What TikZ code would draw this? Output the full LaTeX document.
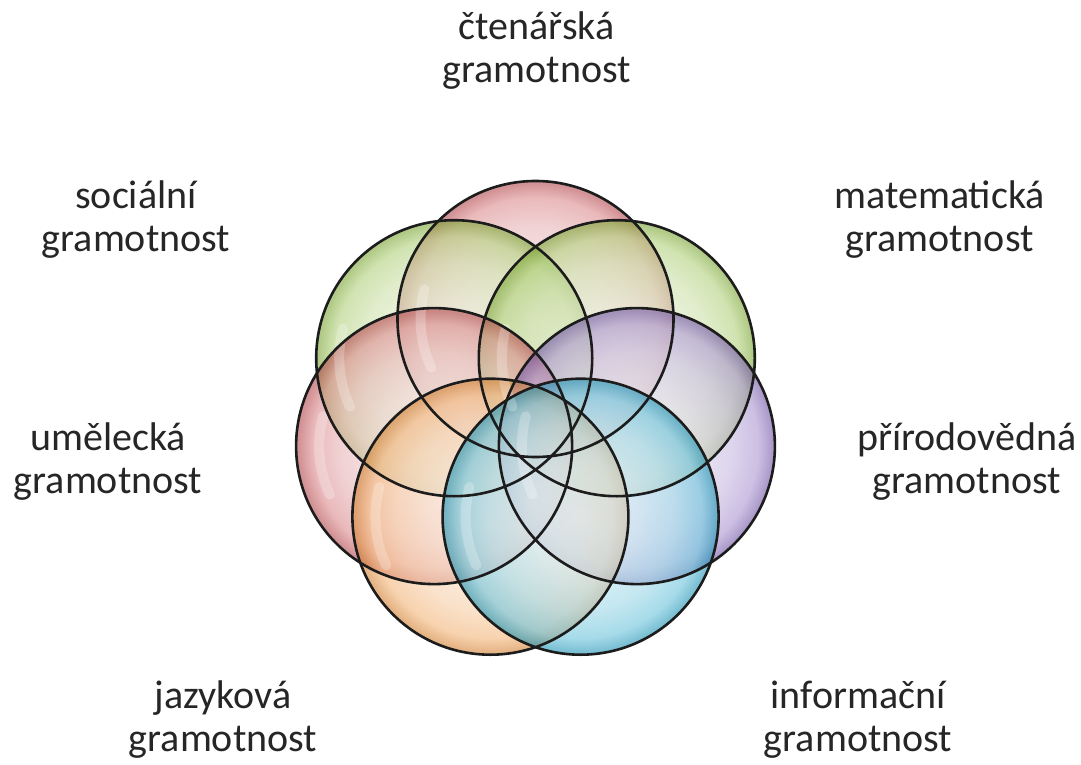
\documentclass[tikz,border=0pt]{standalone}
\usepackage{fontspec}
\setmainfont{Carlito}
\definecolor{txt}{RGB}{38,38,38}
\definecolor{cred}{RGB}{205,90,95}
\definecolor{cgreen}{RGB}{145,190,70}
\definecolor{cpurple}{RGB}{135,105,190}
\definecolor{corange}{RGB}{238,150,65}
\definecolor{cblue}{RGB}{45,170,205}
\definecolor{rim}{RGB}{28,28,28}
\newcommand\mkbubble[2]{\pgfdeclareradialshading{#1}{\pgfpointorigin}{%
  color(0bp)=(#2!18!white); color(10bp)=(#2!26!white); color(17bp)=(#2!44!white);
  color(22bp)=(#2!68!white); color(24.5bp)=(#2!90!black); color(50bp)=(#2)}}
\mkbubble{bred}{cred}
\mkbubble{bgreen}{cgreen}
\mkbubble{bpurple}{cpurple}
\mkbubble{borange}{corange}
\mkbubble{bblue}{cblue}
\tikzset{
  bubble/.style={circle, minimum size=138pt, inner sep=0pt, shading=#1, fill opacity=0.62},
  rimline/.style={draw=rim, line width=1.3pt},
  gloss/.style={draw=white, line cap=round, line width=5pt, draw opacity=0.25},
  lbl/.style={font=\fontsize{20}{21}\selectfont, text=txt, inner sep=0pt, anchor=base},
}
\begin{document}
\begin{tikzpicture}[x=0.5pt,y=-0.5pt]
\useasboundingbox[fill=white] (0,0) rectangle (1081,765);
% bubbles
\node[bubble=bred]    (cten) at (535.5,319) {};
\node[bubble=bgreen]  (soc)  at (454.2,358.2) {};
\node[bubble=bgreen]  (mat)  at (616.8,358.2) {};
\node[bubble=bred]    (ume)  at (434.1,446.1) {};
\node[bubble=bpurple] (prir) at (636.9,446.1) {};
\node[bubble=borange] (jaz)  at (490.4,516.7) {};
\node[bubble=bblue]   (inf)  at (580.6,516.7) {};
% glossy highlights
\foreach \n in {cten,soc,mat,ume,prir,jaz,inf}
  \draw[gloss] ([shift={(155:115)}]\n.center) arc[start angle=155, end angle=195, radius=115];
% rims
\foreach \n in {cten,soc,mat,ume,prir,jaz,inf}
  \draw[rimline] (\n.center) circle[radius=138];
% labels
\node[lbl] (l1a) at (536.7,40) {čtenářská};
\node[lbl] (l1b) at (536.7,82.7) {gramotnost};
\node[lbl] (l2a) at (136,208.3) {sociální};
\node[lbl] (l2b) at (136,251.7) {gramotnost};
\node[lbl] (l3a) at (939.5,208.3) {matematická};
\node[lbl] (l3b) at (939.5,251.7) {gramotnost};
\node[lbl] (l4a) at (108,450) {umělecká};
\node[lbl] (l4b) at (108,493) {gramotnost};
\node[lbl] (l5a) at (966.7,450) {přírodovědná};
\node[lbl] (l5b) at (966.7,493) {gramotnost};
\node[lbl] (l6a) at (223,708) {jazyková};
\node[lbl] (l6b) at (223,751.7) {gramotnost};
\node[lbl] (l7a) at (858,708) {informační};
\node[lbl] (l7b) at (858,751.7) {gramotnost};
\end{tikzpicture}
\end{document}
